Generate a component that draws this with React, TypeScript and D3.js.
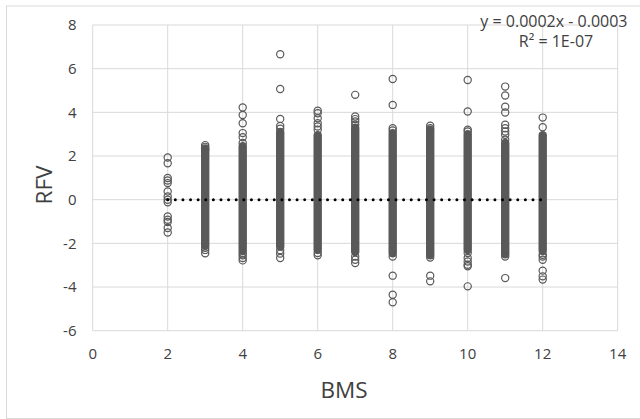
import React from "react";
import * as d3 from "d3";

const bms = [2, 3, 4, 5, 6, 7, 8, 9, 10, 11, 12];
// dense core of each column (low, high); null = no dense core
const bandLow: (number | null)[] = [null, -2.1, -2.35, -2.15, -2.3, -2.4, -2.45, -2.55, -2.3, -2.5, -2.35];
const bandHigh: (number | null)[] = [null, 2.35, 2.45, 3.1, 2.95, 3.3, 3.05, 3.2, 3.0, 2.6, 2.95];
// individually visible points per column
const points: number[][] = [
  [1.93, 1.67, 0.99, 0.88, 0.76, 0.38, 0.15, 0.0, -0.12, -0.77, -0.92, -1.02, -1.3, -1.5],
  [2.5, 2.42, 2.3, -2.2, -2.3, -2.45],
  [4.22, 3.88, 3.5, 3.05, 2.86, 2.6, -2.45, -2.55, -2.67, -2.78],
  [6.66, 5.07, 3.7, 3.38, 3.25, -2.32, -2.47, -2.67],
  [4.07, 3.96, 3.73, 3.5, 3.35, 3.2, -2.44, -2.55],
  [4.8, 3.81, 3.69, 3.58, 3.43, -2.6, -2.75, -2.9],
  [5.53, 4.34, 3.27, 3.17, -2.6, -3.48, -4.35, -4.7],
  [3.39, 3.27, -2.65, -3.48, -3.74],
  [5.48, 4.04, 3.2, 3.12, -2.44, -2.67, -2.83, -2.98, -3.05, -3.97],
  [5.18, 4.77, 4.26, 3.99, 3.43, 3.27, 3.12, 2.97, 2.75, -2.6, -3.59],
  [3.76, 3.32, -2.52, -2.6, -2.75, -3.25, -3.51, -3.66],
];
const xTicks = [0, 2, 4, 6, 8, 10, 12, 14];
const yTicks = [-6, -4, -2, 0, 2, 4, 6, 8];
const slope = 0.0002;
const intercept = -0.0003;
const equation = "y = 0.0002x - 0.0003";
const rSquared = "R² = 1E-07";
const xTitle = "BMS";
const yTitle = "RFV";

const FONT = "'Open Sans', sans-serif";
const MARK = "#595959";
const TEXT = "#404040";

export default function App() {
  const x = d3.scaleLinear().domain([0, 14]).range([92.7, 617.7]);
  const y = d3.scaleLinear().domain([-6, 8]).range([330.7, 25]);
  const trend = d3
    .line<number>()
    .x((d) => x(d))
    .y((d) => y(slope * d + intercept));
  const xMin = d3.min(bms) as number;
  const xMax = d3.max(bms) as number;

  return (
    <svg
      width={640}
      height={419}
      style={{ position: "absolute", left: 0, top: 0, background: "#fff" }}
      fontFamily={FONT}
    >
      <rect x={6.5} y={6} width={640} height={412.5} fill="#fff" stroke="#d9d9d9" strokeWidth={1} />
      {/* gridlines */}
      {xTicks.map((t) => (
        <line key={"gx" + t} x1={x(t)} x2={x(t)} y1={y(-6)} y2={y(8)} stroke="#d9d9d9" strokeWidth={1} />
      ))}
      {yTicks.map((t) => (
        <line key={"gy" + t} x1={x(0)} x2={x(14)} y1={y(t)} y2={y(t)} stroke="#d9d9d9" strokeWidth={1} />
      ))}
      {/* tick labels */}
      {xTicks.map((t) => (
        <text key={"tx" + t} x={x(t)} y={359} textAnchor="middle" fontSize={15} fill={TEXT}>
          {t}
        </text>
      ))}
      {yTicks.map((t) => (
        <text key={"ty" + t} x={76.5} y={y(t) + 5.3} textAnchor="end" fontSize={15} fill={TEXT}>
          {t}
        </text>
      ))}
      {/* dense bands */}
      {bms.map((b, i) =>
        bandLow[i] !== null && bandHigh[i] !== null ? (
          <line
            key={"band" + b}
            x1={x(b)}
            x2={x(b)}
            y1={y(bandLow[i] as number)}
            y2={y(bandHigh[i] as number)}
            stroke={MARK}
            strokeWidth={8.4}
            strokeLinecap="round"
          />
        ) : null
      )}
      {/* individual points */}
      {bms.map((b, i) =>
        points[i].map((v, j) => (
          <circle
            key={"p" + b + "-" + j}
            cx={x(b)}
            cy={y(v)}
            r={3.6}
            fill="none"
            stroke={MARK}
            strokeWidth={1.2}
          />
        ))
      )}
      {/* trendline */}
      <path
        d={trend([xMin, xMax]) || ""}
        fill="none"
        stroke="#000"
        strokeWidth={3}
        strokeLinecap="round"
        strokeDasharray="0.01 7.6"
      />
      {/* equation */}
      <text x={627.5} y={27} textAnchor="end" fontSize={16} fill={TEXT}>
        {equation}
      </text>
      <text x={556} y={47} textAnchor="middle" fontSize={16} fill={TEXT}>
        {rSquared}
      </text>
      {/* axis titles */}
      <text x={344} y={398} textAnchor="middle" fontSize={22.5} fill={TEXT}>
        {xTitle}
      </text>
      <text
        transform={`translate(51.5,185) rotate(-90)`}
        textAnchor="middle"
        fontSize={22.5}
        fill={TEXT}
      >
        {yTitle}
      </text>
    </svg>
  );
}
